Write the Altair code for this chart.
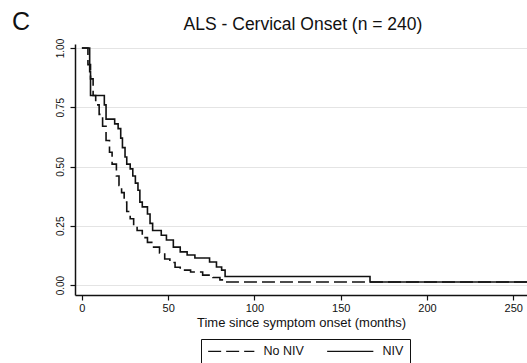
import altair as alt
import pandas as pd

# Kaplan-Meier style step curves
no_niv_t = [0, 3.5, 5, 6.5, 8, 10, 12, 14, 16, 17.5, 20, 21.5, 23, 24.5, 26, 28, 30, 32, 35, 38, 41,
            45, 48, 51, 54, 57, 63, 70, 76, 80, 83, 258]
no_niv_s = [1.0, 0.93, 0.87, 0.80, 0.76, 0.72, 0.67, 0.61, 0.56, 0.51, 0.46, 0.42, 0.39, 0.35, 0.31,
            0.28, 0.25, 0.23, 0.20, 0.18, 0.16, 0.135, 0.11, 0.095, 0.075, 0.063, 0.055, 0.042,
            0.032, 0.022, 0.013, 0.013]

niv_t = [0, 4.5, 5, 13, 14, 19, 21, 22.5, 23.5, 25, 26, 28, 29.5, 31, 32.5, 33.6, 35, 38, 39.5, 41,
         46, 49, 53, 57, 61, 65.5, 74, 78, 81, 83, 167, 258]
niv_s = [1.0, 0.90, 0.80, 0.76, 0.70, 0.68, 0.66, 0.62, 0.58, 0.54, 0.51, 0.49, 0.46, 0.43, 0.40,
         0.35, 0.33, 0.30, 0.26, 0.23, 0.21, 0.19, 0.16, 0.14, 0.127, 0.114, 0.097, 0.076, 0.063,
         0.036, 0.013, 0.013]

groups = ["No NIV", "NIV"]
x_ticks = [0, 50, 100, 150, 200, 250]
y_ticks = [0, 0.25, 0.5, 0.75, 1.0]
panel_label = "C"
title_text = "ALS - Cervical Onset (n = 240)"

rows = [{"t": t, "s": s, "group": "No NIV"} for t, s in zip(no_niv_t, no_niv_s)]
rows += [{"t": t, "s": s, "group": "NIV"} for t, s in zip(niv_t, niv_s)]
df = pd.DataFrame(rows)

FONT = "Liberation Sans"

lines = alt.Chart(df).mark_line(
    interpolate="step-after", color="#111111", strokeWidth=1.6, clip=True
).encode(
    x=alt.X("t:Q",
            scale=alt.Scale(domain=[-4, 258], nice=False, zero=False),
            axis=alt.Axis(values=x_ticks, title="Time since symptom onset (months)",
                          grid=False, domainColor="#111111", domainWidth=1.5,
                          tickColor="#111111", tickSize=5, tickWidth=1.2,
                          labelFont=FONT, labelFontSize=11, labelColor="#111111",
                          labelPadding=2, titleFont=FONT, titleFontSize=13,
                          titleFontWeight="normal", titleColor="#111111", titlePadding=3)),
    y=alt.Y("s:Q",
            scale=alt.Scale(domain=[-0.042, 1.017], nice=False, zero=False),
            axis=alt.Axis(values=y_ticks, format=".2f", title=None,
                          grid=True, gridColor="#e4e4e4", gridWidth=1,
                          domainColor="#111111", domainWidth=1.5,
                          tickColor="#111111", tickSize=5, tickWidth=1.2,
                          labelFont=FONT, labelFontSize=10, labelColor="#111111",
                          labelAngle=270, labelAlign="center", labelBaseline="bottom",
                          labelPadding=5)),
    strokeDash=alt.StrokeDash("group:N",
                              scale=alt.Scale(domain=groups, range=[[13, 5], [1, 0]]),
                              sort=groups,
                              legend=alt.Legend(orient="none", legendX=126, legendY=295,
                                                direction="horizontal", title=None,
                                                strokeColor="#111111", fillColor="white",
                                                padding=6, symbolType="M-7.7,0H7.7",
                                                symbolSize=36, symbolStrokeWidth=1.4,
                                                symbolStrokeColor="#111111",
                                                symbolDash=[12, 4],
                                                symbolOffset=18,
                                                labelFont=FONT, labelFontSize=12.5,
                                                labelColor="#111111", labelOffset=26,
                                                columnPadding=20)),
)

panel = alt.Chart(pd.DataFrame({"label": [panel_label]})).mark_text(
    font=FONT, fontSize=25, align="left", baseline="alphabetic", color="#111111"
).encode(text="label:N", x=alt.value(-63), y=alt.value(-14))

title = alt.Chart(pd.DataFrame({"label": [title_text]})).mark_text(
    font=FONT, fontSize=17.5, align="center", baseline="alphabetic", color="#111111"
).encode(text="label:N", x=alt.value(228), y=alt.value(-14))

chart = alt.layer(lines, panel, title).properties(
    width=452, height=251,
    padding={"left": 75, "top": 44, "right": 0, "bottom": 68},
    autosize=alt.AutoSizeParams(type="none"),
    background="white",
).configure_view(stroke=None)

chart.save("out.html", embed_options={"renderer": "svg", "actions": False})
